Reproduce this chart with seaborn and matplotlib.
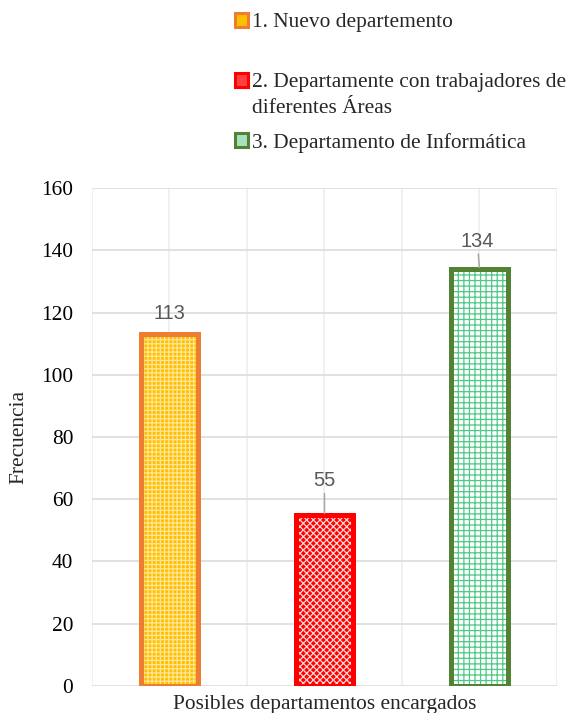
import matplotlib
matplotlib.use("Agg")
import matplotlib.pyplot as plt
from matplotlib.patches import Patch
import seaborn as sns
import pandas as pd

# Survey data: which department should be in charge
categories = [
    "1. Nuevo departemento",
    "2. Departamente con trabajadores de diferentes Áreas",
    "3. Departamento de Informática",
]
legend_lines = [
    ["1. Nuevo departemento"],
    ["2. Departamente con trabajadores de", "diferentes Áreas"],
    ["3. Departamento de Informática"],
]
values = [113, 55, 134]
yticks = [0, 20, 40, 60, 80, 100, 120, 140, 160]

fill_colors = ["#FFC000", "#FF0000", "#FFFFFF"]
hatch_colors = ["#FFE69A", "#FFD6D6", "#4FC987"]
hatches = ["++++", "xxxxx", "+++"]
edge_colors = ["#ED7D31", "#FF0000", "#548235"]

df = pd.DataFrame({"categoria": categories, "frecuencia": values})

sns.set_theme(style="white")
serif = ["Liberation Serif", "DejaVu Serif"]
sans = ["Liberation Sans", "DejaVu Sans"]
plt.rcParams["font.family"] = serif
plt.rcParams["hatch.linewidth"] = 0.9

FS = 15.4

fig = plt.figure(figsize=(5.66, 7.13), dpi=100)
ax = fig.add_axes([0.1625, 0.0379, 0.8215, 0.6984])

bar_w = 0.37
# patterned fill
sns.barplot(data=df, x="categoria", y="frecuencia", hue="categoria",
            palette=fill_colors, saturation=1, width=bar_w, linewidth=0,
            legend=False, ax=ax, zorder=2)
for p, hc, h in zip(ax.patches, hatch_colors, hatches):
    p.set_hatch(h)
    p.set_edgecolor(hc)
    p.set_linewidth(0)
# thick outline on top
sns.barplot(data=df, x="categoria", y="frecuencia", hue="categoria",
            palette=edge_colors, saturation=1, width=bar_w, fill=False,
            linewidth=3.6, legend=False, ax=ax, zorder=3)

ax.set_xlim(-0.5, 2.5)
ax.set_ylim(0, 160)
ax.set_yticks(yticks)
ax.set_xticks([-0.5, 0, 0.5, 1, 1.5, 2, 2.5])
ax.set_xticklabels([])
ax.tick_params(axis="both", length=0)
ax.tick_params(axis="x", pad=0)
ax.tick_params(axis="y", labelsize=FS, pad=13.5, labelcolor="#000000")
for lbl in ax.get_yticklabels():
    lbl.set_fontfamily(serif)

ax.grid(axis="y", color="#DCDCDC", lw=1.2, zorder=0)
ax.grid(axis="x", color="#EDEDED", lw=1.2, zorder=0)
ax.set_axisbelow(True)
for s in ax.spines.values():
    s.set_visible(False)

ax.set_ylabel("Frecuencia", fontsize=FS, labelpad=9, family=serif)
ax.set_xlabel("Posibles departamentos encargados", fontsize=FS,
              labelpad=6.5, family=serif)

# value labels
offsets = [(0, 15), (0, 24.5), (-1.5, 20)]
leaders = [False, True, True]
for i, (v, off, lead) in enumerate(zip(values, offsets, leaders)):
    kw = {}
    if lead:
        kw["arrowprops"] = dict(arrowstyle="-", color="#A6A6A6", lw=1.1,
                                shrinkA=0, shrinkB=1)
    ax.annotate(str(v), xy=(i, v), xytext=off, textcoords="offset points",
                ha="center", va="center", fontsize=14.4, color="#595959",
                family=sans, zorder=4, **kw)

# legend entries, stacked at the top right
leg_y = [0.968, 0.884, 0.800]
for lines, fc, ec, y in zip(legend_lines, ["#FFC000", "#FF4040", "#A9E0BD"],
                            edge_colors, leg_y):
    handle = Patch(facecolor=fc, edgecolor=ec, linewidth=2.2)
    fig.legend(handles=[handle], labels=[lines[0]], loc="center left",
               bbox_to_anchor=(0.415, y), frameon=False, borderpad=0,
               borderaxespad=0, handlelength=0.6, handleheight=0.6,
               handletextpad=0.2, prop={"family": serif, "size": FS})
    if len(lines) > 1:
        fig.text(0.446, y - 0.036, lines[1], fontsize=FS, family=serif,
                 va="center", ha="left")

fig.savefig("out.png", dpi=100)
